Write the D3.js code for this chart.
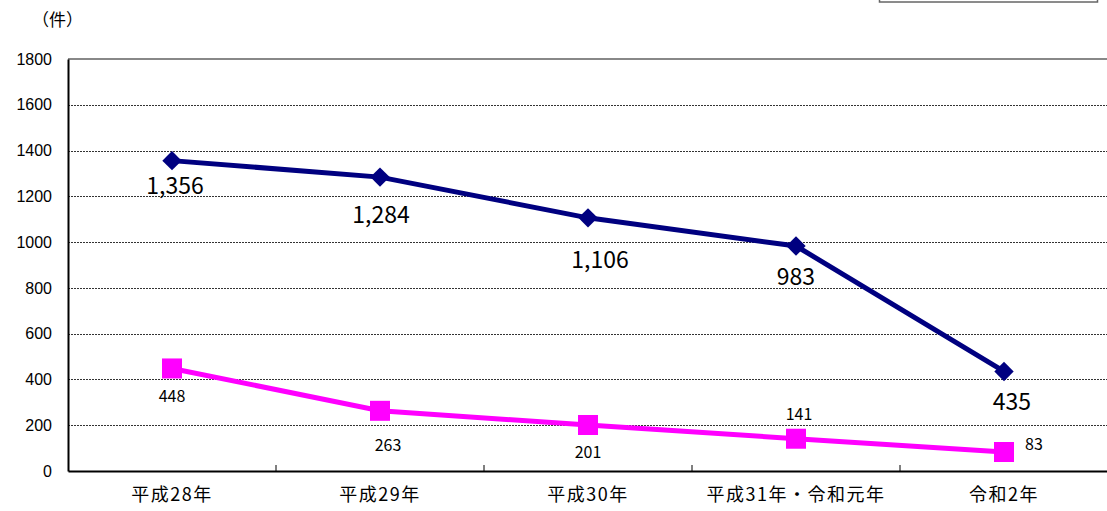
<!DOCTYPE html>
<html><head><meta charset="utf-8">
<script src="https://cdn.jsdelivr.net/npm/d3@7"></script>
<style>body{margin:0;background:#fff}svg{display:block}</style>
</head><body>
<svg id="c" width="1107" height="511"></svg>
<script>
const categories = ["平成28年","平成29年","平成30年","平成31年・令和元年","令和2年"];
const seriesA = [1356,1284,1106,983,435];
const seriesB = [448,263,201,141,83];
const yTicks = [0,200,400,600,800,1000,1200,1400,1600,1800];
// label placement (layout only)
const labelA = [[3,23],[1,36],[12,40],[0,29],[8,29]];
const labelB = [[0,27],[8,33],[0,26],[3,-26],[30,-9]];

const svg = d3.select("#c");
const L = 68, R = 1108, T = 59, B = 471;
const x = d3.scaleBand().domain(categories).range([L,R]);
const y = d3.scaleLinear().domain([0,1800]).range([B,T]);
const cx = d => x(d) + x.bandwidth()/2;

// partial legend box at top
svg.append("rect").attr("x",879.5).attr("y",-10).attr("width",218).attr("height",12)
  .attr("fill","#fff").attr("stroke","#666").attr("stroke-width",1.5);

// gridlines
svg.append("g").selectAll("line").data(yTicks.filter(t=>t>0 && t<1800)).join("line")
  .attr("x1",L).attr("x2",R).attr("y1",d=>Math.round(y(d))+0.5).attr("y2",d=>Math.round(y(d))+0.5)
  .attr("stroke","#333").attr("stroke-width",1).attr("stroke-dasharray","2,1");
svg.append("line").attr("x1",L).attr("x2",R).attr("y1",y(1800)).attr("y2",y(1800))
  .attr("stroke","#888").attr("stroke-width",2);

// y axis
const ya = svg.append("g").attr("transform",`translate(${L},0)`)
  .call(d3.axisLeft(y).tickValues(yTicks).tickSize(0).tickPadding(16).tickFormat(d3.format("d")));
ya.select(".domain").attr("stroke","#000").attr("stroke-width",2);
ya.selectAll("text").attr("font-family","Liberation Sans, Arial, sans-serif").attr("font-size",16).attr("fill","#000");

// x axis
const xa = svg.append("g").attr("transform",`translate(0,${B})`)
  .call(d3.axisBottom(x).tickSize(0).tickPadding(17));
xa.select(".domain").attr("stroke","#000").attr("stroke-width",2);
xa.selectAll("text").attr("font-family","Noto Sans CJK JP, sans-serif").attr("font-size",18)
  .attr("letter-spacing","1.5px").attr("fill","#000");
svg.append("g").selectAll("line").data(categories.slice(1)).join("line")
  .attr("x1",d=>x(d)).attr("x2",d=>x(d)).attr("y1",B).attr("y2",B-6)
  .attr("stroke","#000").attr("stroke-width",1);

// unit
svg.append("text").attr("x",32).attr("y",26).text("（件）")
  .attr("font-family","Noto Sans CJK JP, sans-serif").attr("font-size",17).attr("fill","#000");

const line = d3.line().x((d,i)=>cx(categories[i])).y(d=>y(d));

// series B (magenta)
svg.append("path").datum(seriesB).attr("d",line).attr("fill","none").attr("stroke","#FF00FF").attr("stroke-width",5);
svg.append("g").selectAll("rect").data(seriesB).join("rect")
  .attr("x",(d,i)=>cx(categories[i])-10).attr("y",d=>y(d)-10).attr("width",20).attr("height",20).attr("fill","#FF00FF");
svg.append("g").selectAll("text").data(seriesB).join("text")
  .attr("x",(d,i)=>cx(categories[i])+labelB[i][0]).attr("y",(d,i)=>y(d)+labelB[i][1])
  .attr("text-anchor","middle").attr("dominant-baseline","central")
  .attr("font-family","Noto Sans CJK JP, sans-serif").attr("font-size",16).attr("fill","#000")
  .text(d=>d3.format(",")(d));

// series A (navy)
svg.append("path").datum(seriesA).attr("d",line).attr("fill","none").attr("stroke","#000080").attr("stroke-width",5);
svg.append("g").selectAll("path").data(seriesA).join("path")
  .attr("d",d3.symbol().type(d3.symbolDiamond2).size(240))
  .attr("transform",(d,i)=>`translate(${cx(categories[i])},${y(d)})`).attr("fill","#000080");
svg.append("g").selectAll("text").data(seriesA).join("text")
  .attr("x",(d,i)=>cx(categories[i])+labelA[i][0]).attr("y",(d,i)=>y(d)+labelA[i][1])
  .attr("text-anchor","middle").attr("dominant-baseline","central")
  .attr("font-family","Noto Sans CJK JP, sans-serif").attr("font-size",23).attr("fill","#000")
  .text(d=>d3.format(",")(d));
</script>
</body></html>
